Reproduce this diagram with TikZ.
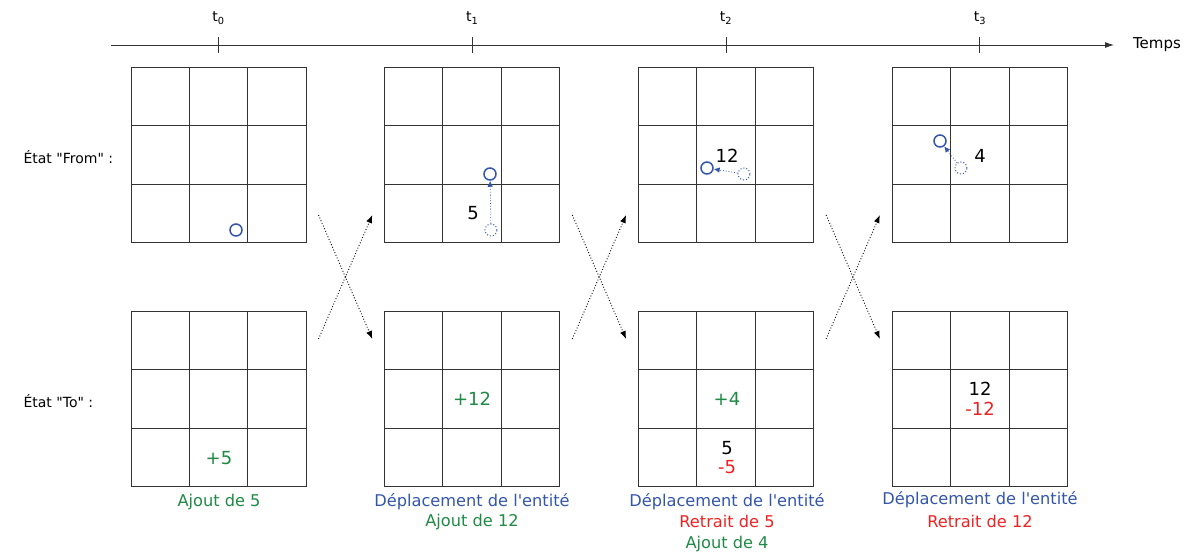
\documentclass[tikz,border=0pt]{standalone}
\usepackage{fontspec}
\setmainfont{DejaVu Sans}[Ligatures=TeXOff]
\usepackage{xcolor}
\usetikzlibrary{arrows.meta,calc}

\definecolor{entblue}{HTML}{3355AA}
\definecolor{addgreen}{HTML}{1E8A44}
\definecolor{remred}{HTML}{EE2222}
\definecolor{gridgray}{HTML}{333333}

\tikzset{
  board/.style={draw=gridgray, line width=1pt, minimum size=175pt, inner sep=0pt},
  entity/.style={circle, draw=entblue, line width=1.5pt, minimum size=12pt, inner sep=0pt},
  ghost/.style={circle, draw=entblue, line width=1pt, dotted, minimum size=12pt, inner sep=0pt},
  move/.style={entblue, dotted, line width=0.8pt, -{Latex[length=6pt,width=5.5pt]}},
  swap/.style={dotted, line width=0.9pt, -{Latex[length=8pt,width=6pt]}},
  count/.style={font=\fontsize{18}{20}\selectfont},
  caption/.style={anchor=base, font=\fontsize{16.2}{18}\selectfont},
  label/.style={anchor=west, font=\fontsize{14}{16}\selectfont},
}

\begin{document}
\begin{tikzpicture}[x=1pt, y=-1pt]
  \useasboundingbox (0,0) rectangle (1192,552);

  % Time axis
  \coordinate (axis start) at (111,45);
  \coordinate (axis end) at (1114,45);
  \draw[gridgray, line width=0.9pt, -{Latex[length=9pt,width=6pt]}] (axis start) -- (axis end);
  \node[font=\fontsize{15}{17}\selectfont] (temps) at (1157,45) {Temps};

  % Boards: "From" row and "To" row
  \foreach \c in {0,...,3}{
    \pgfmathsetmacro\cx{218.5+253.8*\c}
    \node[board] (F\c) at (\cx,155) {};
    \node[board] (T\c) at (\cx,399) {};
    \foreach \b in {F\c,T\c}{
      \foreach \f in {1,2}{
        \draw[gridgray, line width=1pt] ($(\b.north west)!\f/3!(\b.north east)$) -- ($(\b.south west)!\f/3!(\b.south east)$);
        \draw[gridgray, line width=1pt] ($(\b.north west)!\f/3!(\b.south west)$) -- ($(\b.north east)!\f/3!(\b.south east)$);
      }
    }
    % tick and time label
    \draw[gridgray, line width=0.9pt] (\cx,37) -- (\cx,53);
    \node[font=\fontsize{14}{16}\selectfont] (t\c) at (\cx,18) {t\textsubscript{\c}};
  }

  % Crossing arrows between time steps
  \foreach \k in {0,1,2}{
    \pgfmathtruncatemacro\n{\k+1}
    \coordinate (fs\k) at ($(F\k.south east)+(12,-28)$);
    \coordinate (ts\k) at ($(T\k.north east)+(12,28)$);
    \coordinate (fe\k) at ($(F\n.south west)+(-12,-28)$);
    \coordinate (te\k) at ($(T\n.north west)+(-12,28)$);
    \draw[swap] (fs\k) -- (te\k);
    \draw[swap] (ts\k) -- (fe\k);
  }

  % Row labels
  \node[label] (lfrom) at (20,157) {État "From" :};
  \node[label] (lto) at (20,401) {État "To" :};

  % Entities in the "From" state
  \node[entity] (e0) at (236,230) {};

  \node[entity] (e1) at (490,174) {};
  \node[ghost] (g1) at (491,230) {};
  \draw[move] (g1) -- (e1);
  \node[count] (n1) at (473,213) {5};

  \node[entity] (e2) at (707,168) {};
  \node[ghost] (g2) at (744,174) {};
  \draw[move] (g2) -- (e2);
  \node[count] (n2) at (727,156) {12};

  \node[entity] (e3) at (940,141) {};
  \node[ghost] (g3) at (961,168) {};
  \draw[move] (g3) -- (e3);
  \node[count] (n3) at (980,156) {4};

  % Counts in the "To" state
  \node[count, addgreen] (a0) at (219,458) {+5};
  \node[count, addgreen] (a1) at (472,399) {+12};
  \node[count, addgreen] (a2) at (727,399) {+4};
  \node[count] (k2) at (727,448) {5};
  \node[count, remred] (r2) at (727,467) {-5};
  \node[count] (k3) at (980,389) {12};
  \node[count, remred] (r3) at (980,409) {-12};

  % Captions
  \node[caption, addgreen] (c0a) at (219,506) {Ajout de 5};
  \node[caption, entblue] (c1a) at (472,506) {Déplacement de l'entité};
  \node[caption, addgreen] (c1b) at (472,526) {Ajout de 12};
  \node[caption, entblue] (c2a) at (727,506) {Déplacement de l'entité};
  \node[caption, remred] (c2b) at (727,527) {Retrait de 5};
  \node[caption, addgreen] (c2c) at (727,548) {Ajout de 4};
  \node[caption, entblue] (c3a) at (980,504) {Déplacement de l'entité};
  \node[caption, remred] (c3b) at (980,527) {Retrait de 12};
\end{tikzpicture}
\end{document}
